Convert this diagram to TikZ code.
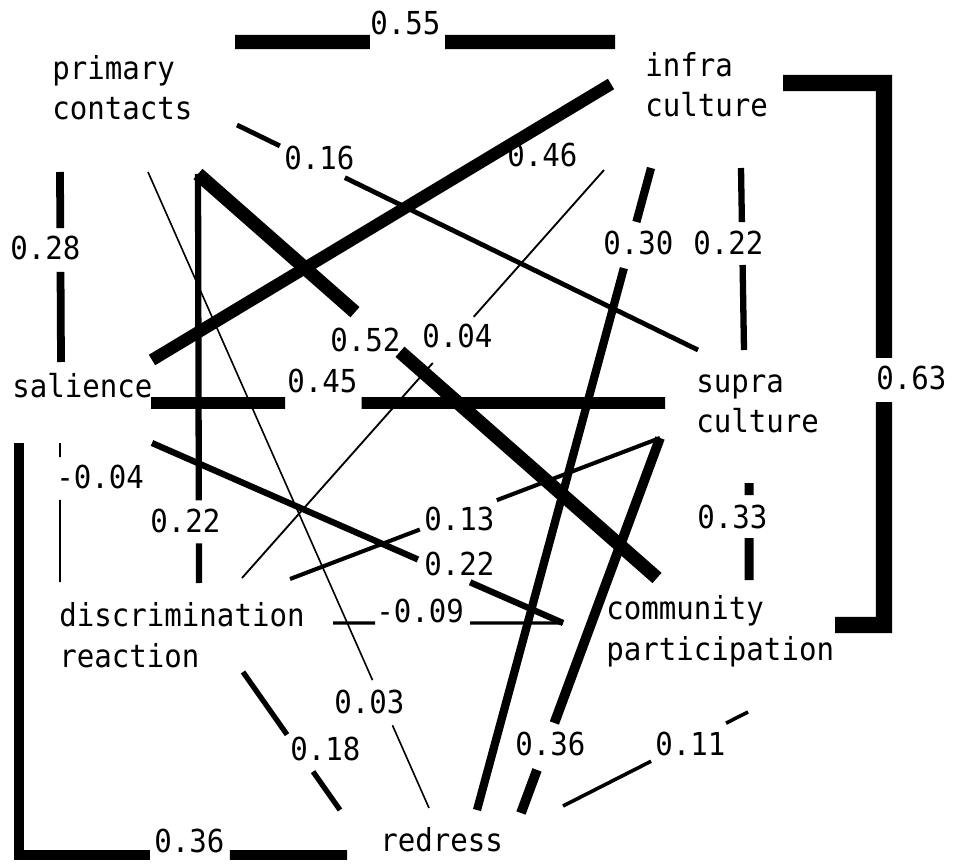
\documentclass[tikz,border=0pt]{standalone}
\usepackage{fontspec}
\newfontfamily\plotfont{DejaVu Sans Mono}[FakeStretch=0.92]
\usetikzlibrary{calc}

\begin{document}
\begin{tikzpicture}[x=0.02cm,y=-0.02cm,font={\plotfont\fontsize{18}{23.3}\selectfont},
  every node/.style={inner sep=0pt,anchor=base west},
  var/.style={align=left},
  cf/.style={line width=#1*14pt+0.5pt},
  gapped/.style 2 args={to path={(\tikztostart) -- ($(\tikztostart)!#1!(\tikztotarget)$) ($(\tikztostart)!#2!(\tikztotarget)$) -- (\tikztotarget)}}]
\useasboundingbox (0,0) rectangle (956,864);
\node[var] (pc) at (52,120) {primary\\contacts};
\node[var] (ic) at (645,117) {infra\\culture};
\node[var] (sa) at (12,398) {salience};
\node[var] (sc) at (696,433) {supra\\culture};
\node[var] (dr) at (59,667) {discrimination\\reaction};
\node[var] (cp) at (606,660) {community\\participation};
\node[var] (re) at (380,851) {redress};
% path ends
\coordinate (pc55) at (235,42); \coordinate (ic55) at (615,42);
\coordinate (pc16) at (237,125); \coordinate (sc16) at (698,350);
\coordinate (pc28) at (60,172); \coordinate (sa28) at (61,362);
\coordinate (sa46) at (152,360); \coordinate (ic46) at (611,84);
\coordinate (pcx) at (198,174); \coordinate (cp52) at (657,578); \coordinate (dr22) at (199,583);
\coordinate (pc03) at (148,172); \coordinate (re03) at (429,808);
\coordinate (ic04) at (604,170); \coordinate (dr04) at (242,578);
\coordinate (sa45) at (151,403); \coordinate (sc45) at (665,403);
\coordinate (ic30) at (651,168); \coordinate (re30) at (477,810);
\coordinate (ic22) at (741,168); \coordinate (sc22) at (744,350);
\coordinate (ic63) at (783,83); \coordinate (rt) at (884,83); \coordinate (rb) at (884,625); \coordinate (cp63) at (835,625);
\coordinate (sc33) at (749,483); \coordinate (cp33) at (749,580);
\coordinate (sa04m) at (60,443); \coordinate (dr04m) at (60,582);
\coordinate (sa22) at (152,443); \coordinate (cpx) at (563,623); \coordinate (dr09) at (333,623);
\coordinate (dr13) at (290,579); \coordinate (scx) at (660,438); \coordinate (re36) at (521,813);
\coordinate (sa36) at (19,443); \coordinate (lb) at (19,855); \coordinate (re36s) at (347,855);
\coordinate (dr18) at (243,672); \coordinate (re18) at (340,810);
\coordinate (cp11) at (748,712); \coordinate (re11) at (563,806);
% paths
\draw[cf=.55,gapped={.355}{.553}] (pc55) to (ic55);
\draw[cf=.16,gapped={.093}{.234}] (pc16) to (sc16);
\draw[cf=.28,gapped={.295}{.526}] (pc28) to (sa28);
\draw[cf=.46] (sa46) -- (ic46);
\draw[cf=.52,gapped={.342}{.440}] (pcx) to (cp52);
\draw[cf=.22,gapped={.798}{.903}] (pcx) to (dr22);
\draw[cf=.03,gapped={.799}{.870}] (pc03) to (re03);
\draw[cf=.04,gapped={.360}{.473}] (ic04) to (dr04);
\draw[cf=.45,gapped={.261}{.410}] (sa45) to (sc45);
\draw[cf=.30,gapped={.084}{.156}] (ic30) to (re30);
\draw[cf=.22,gapped={.297}{.533}] (ic22) to (sc22);
\draw[cf=.63] (ic63) -- (rt) -- ($(rt)!.507!(rb)$) ($(rt)!.589!(rb)$) -- (rb) -- (cp63);
\draw[cf=.33,gapped={.124}{.567}] (sc33) to (cp33);
\draw[cf=.04,gapped={.101}{.410}] (sa04m) to (dr04m);
\draw[cf=.22,gapped={.647}{.774}] (sa22) to (cpx);
\draw[cf=.09,gapped={.183}{.596}] (dr09) to (cpx);
\draw[cf=.13,gapped={.351}{.559}] (dr13) to (scx);
\draw[cf=.36,gapped={.760}{.885}] (scx) to (re36);
\draw[cf=.36] (sa36) -- (lb) -- ($(lb)!.399!(re36s)$) ($(lb)!.643!(re36s)$) -- (re36s);
\draw[cf=.18,gapped={.454}{.722}] (dr18) to (re18);
\draw[cf=.11,gapped={.119}{.524}] (cp11) to (re11);
% coefficients
\node (l55) at (370,35) {0.55};
\node (l16) at (284,170) {0.16};
\node (l28) at (10,260) {0.28};
\node (l46) at (507,167) {0.46};
\node (l52) at (330,352) {0.52};
\node (l04) at (422,348) {0.04};
\node (l45) at (287,393) {0.45};
\node (l30) at (603,255) {0.30};
\node (l22b) at (693,255) {0.22};
\node (l63) at (876,390) {0.63};
\node (l04m) at (56,488) {-0.04};
\node (l22a) at (150,532) {0.22};
\node (l13) at (424,530) {0.13};
\node (l22c) at (424,575) {0.22};
\node (l33) at (697,528) {0.33};
\node (l09) at (376,622) {-0.09};
\node (l03) at (334,713) {0.03};
\node (l18) at (290,760) {0.18};
\node (l36a) at (515,755) {0.36};
\node (l11) at (655,755) {0.11};
\node (l36b) at (154,852) {0.36};
\end{tikzpicture}
\end{document}
